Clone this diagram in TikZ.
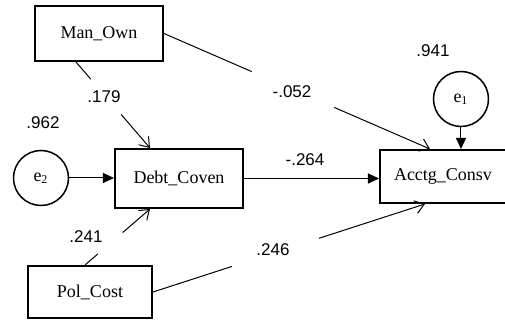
\documentclass[tikz,border=0pt]{standalone}
\usepackage{fontspec}
\setmainfont{Liberation Serif}
\setsansfont{Liberation Sans}
\usetikzlibrary{arrows.meta,calc}
\newlength{\du}
\setlength{\du}{0.5pt}

\begin{document}
\begin{tikzpicture}[
  varbox/.style={draw, line width=2\du, rectangle, inner sep=0pt, font=\fontsize{9}{11}\selectfont},
  errvar/.style={draw, line width=1.5\du, circle, minimum size=55\du, inner sep=0pt, font=\fontsize{9}{11}\selectfont},
  coef/.style={font=\sffamily\fontsize{8.5}{10}\selectfont, inner sep=0pt},
  regpath/.style={line width=1\du, -{Straight Barb[length=4.5pt,width=6.5pt]}},
  errpath/.style={line width=1\du, -{Triangle[length=5.5pt,width=5pt]}}]
\pgftransformxscale{1.000000}
\pgftransformyscale{-1.000000}
\fill[white] (0\du,0\du) rectangle (505\du,320\du);
\useasboundingbox (0\du,0\du) rectangle (505\du,320\du);
% observed variables
\node[varbox, minimum width=128\du, minimum height=55\du] (manown) at (99\du,33.5\du) {Man\_Own};
\node[varbox, minimum width=128\du, minimum height=59\du] (debtcov) at (179\du,178.5\du) {Debt\_Coven};
\node[varbox, minimum width=124\du, minimum height=52\du] (polcost) at (90\du,292\du) {Pol\_Cost};
\node[varbox, minimum width=126\du, minimum height=53\du] (acctg) at (443\du,176.5\du) {Acctg\_Consv};
% error terms
\node[errvar] (etwo) at (41\du,178\du) {e\textsubscript{2}};
\node[errvar] (eone) at (461\du,99\du) {e\textsubscript{1}};
% path ends
\coordinate (mo1) at ([xshift=-23\du]manown.south);
\coordinate (dc1) at ([xshift=-29\du]debtcov.north);
\coordinate (mo2) at (manown.east);
\coordinate (ac2) at ([xshift=-13\du]acctg.north);
\coordinate (pc3) at ([xshift=-5\du]polcost.north);
\coordinate (dc3) at ([xshift=-29\du]debtcov.south);
\coordinate (pc4) at (polcost.east);
\coordinate (ac4) at ([xshift=-18\du]acctg.south);
% regression paths
\draw[regpath] (mo1) -- ($(mo1)!0.20!(dc1)$) ($(mo1)!0.61!(dc1)$) -- (dc1);
\draw[regpath] (mo2) -- ($(mo2)!0.33!(ac2)$) ($(mo2)!0.64!(ac2)$) -- (ac2);
\draw[regpath] (pc3) -- ($(pc3)!0.20!(dc3)$) ($(pc3)!0.58!(dc3)$) -- (dc3);
\draw[regpath] (pc4) -- ($(pc4)!0.29!(ac4)$) ($(pc4)!0.61!(ac4)$) -- (ac4);
\draw[errpath] (debtcov.east) -- (debtcov.east -| acctg.west);
\draw[errpath] (etwo.east) -- (etwo.east -| debtcov.west);
\draw[errpath] (eone.south) -- (eone.south |- acctg.north);
% coefficients
\node[coef] (c179) at (104\du,97\du) {.179};
\node[coef] (c052) at (292\du,92\du) {-.052};
\node[coef] (c264) at (305\du,160\du) {-.264};
\node[coef] (c246) at (273\du,250\du) {.246};
\node[coef] (c241) at (86\du,237\du) {.241};
\node[coef] (c962) at (43\du,123\du) {.962};
\node[coef] (c941) at (433\du,51\du) {.941};
\end{tikzpicture}
\end{document}
